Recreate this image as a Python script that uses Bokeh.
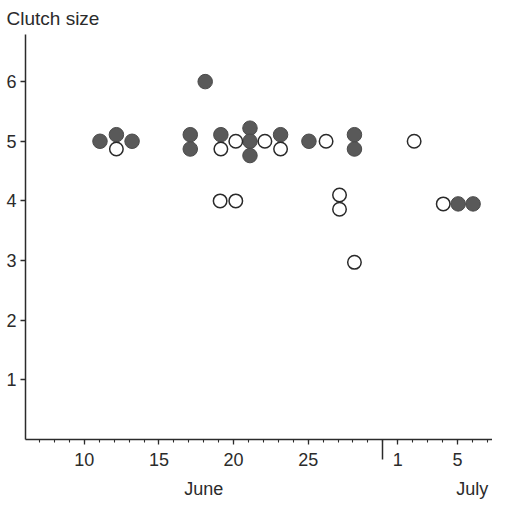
from bokeh.plotting import figure
from bokeh.models import FixedTicker, Range1d, LinearAxis
from bokeh.embed import file_html
from bokeh.resources import INLINE

# Filled circles (x = day, June day numbers; July 1 = 31)
filled_x = [11.05, 12.15, 13.2, 18.1, 17.1, 17.1, 19.15, 21.1, 21.1, 21.1,
            23.15, 25.05, 28.1, 28.1, 35.05, 36.05]
filled_y = [5.0, 5.11, 5.0, 6.0, 5.11, 4.87, 5.11, 5.22, 5.0, 4.76,
            5.11, 5.0, 5.11, 4.87, 3.95, 3.95]

# Open circles
open_x = [12.15, 19.15, 20.15, 22.1, 23.15, 26.2, 27.1, 27.1, 28.1, 32.1,
          34.05, 19.1, 20.15]
open_y = [4.87, 4.87, 5.0, 5.0, 4.87, 5.0, 4.1, 3.86, 2.97, 5.0,
          3.95, 4.0, 4.0]

x_major = [10, 15, 20, 25, 31, 35]
x_labels = {10: "10", 15: "15", 20: "20", 25: "25", 31: "1", 35: "5"}
x_minor = list(range(7, 38))
y_major = [1, 2, 3, 4, 5, 6]
month_ticks = [18, 36]
month_labels = {18: "June", 36: "July"}
month_break = [30]

FONT = "Liberation Sans"
INK = "#2b2b2b"
FS = "18px"

p = figure(width=492, height=501, output_backend="svg", toolbar_location=None,
           x_range=Range1d(6.06, 37.35), y_range=Range1d(0, 6.79),
           min_border_left=25, min_border_right=0, min_border_top=34,
           min_border_bottom=60)
p.outline_line_color = None
p.grid.visible = False

p.title.text = "Clutch size"
p.title.align = "left"
p.title.offset = -19
p.title.standoff = 11
p.title.text_font = FONT
p.title.text_font_size = "19px"
p.title.text_font_style = "normal"
p.title.text_color = INK

p.scatter(filled_x, filled_y, size=14.5, fill_color="#595959", line_color="#4a4a4a",
          line_width=1)
p.scatter(open_x, open_y, size=13.5, fill_color="white", line_color="#2a2a2a",
          line_width=1.5)

xa = p.xaxis[0]
xa.ticker = FixedTicker(ticks=x_major, minor_ticks=x_minor)
xa.major_label_overrides = dict(x_labels)
xa.axis_line_color = INK
xa.axis_line_width = 1.5
xa.major_tick_line_color = INK
xa.minor_tick_line_color = INK
xa.major_tick_line_width = 1.3
xa.minor_tick_line_width = 1.1
xa.major_tick_in = 0
xa.major_tick_out = 5
xa.minor_tick_in = 0
xa.minor_tick_out = 3
xa.major_label_standoff = 8
xa.major_label_text_font = FONT
xa.major_label_text_font_size = FS
xa.major_label_text_color = INK

# long tick at the June/July boundary, reaching up to the main axis line
lt = LinearAxis(ticker=FixedTicker(ticks=month_break, minor_ticks=[]),
                major_label_overrides={30: ""}, axis_line_color=None,
                major_tick_line_color=INK, major_tick_line_width=1.5,
                major_tick_in=29, major_tick_out=-9, minor_tick_line_color=None,
                major_label_standoff=0, major_label_text_font_size="1px")
p.add_layout(lt, "below")

# month names
ma = LinearAxis(ticker=FixedTicker(ticks=month_ticks, minor_ticks=[]),
                major_label_overrides=dict(month_labels), axis_line_color=None,
                major_tick_line_color=None, minor_tick_line_color=None,
                major_tick_in=0, major_tick_out=0, major_label_standoff=10,
                major_label_text_font=FONT, major_label_text_font_size=FS,
                major_label_text_color=INK)
p.add_layout(ma, "below")

ya = p.yaxis[0]
ya.ticker = FixedTicker(ticks=y_major)
ya.axis_line_color = INK
ya.axis_line_width = 1.5
ya.major_tick_line_color = INK
ya.major_tick_line_width = 1.3
ya.major_tick_in = 0
ya.major_tick_out = 5
ya.minor_tick_line_color = None
ya.major_label_standoff = 4
ya.major_label_text_font = FONT
ya.major_label_text_font_size = FS
ya.major_label_text_color = INK

open("out.html", "w").write(file_html(p, INLINE))
